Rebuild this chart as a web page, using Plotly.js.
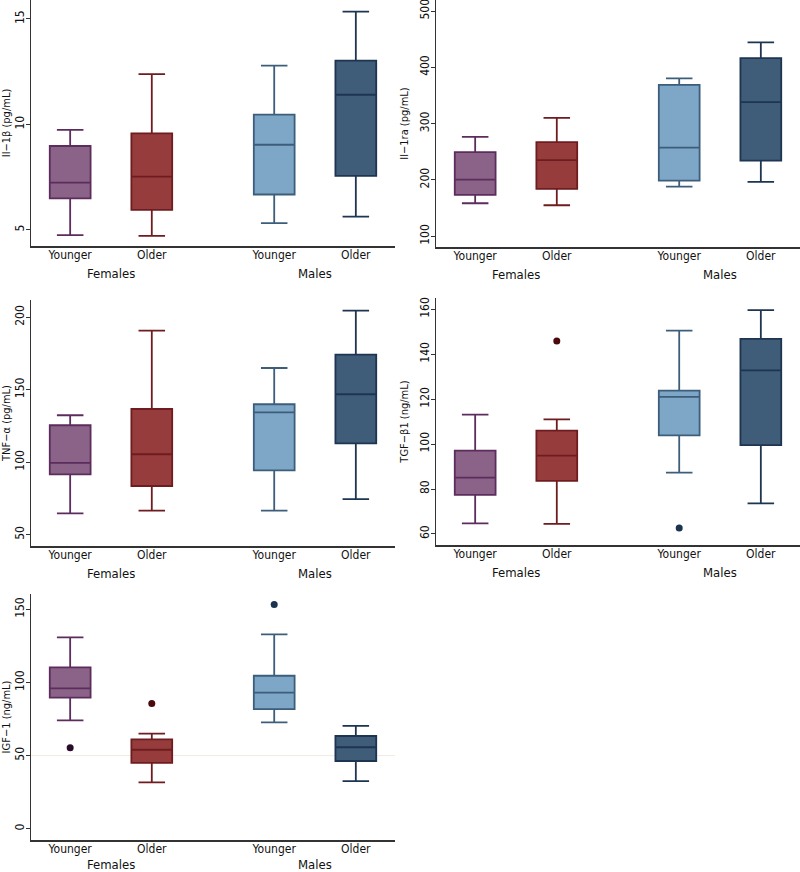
<!DOCTYPE html>
<html>
<head>
<meta charset="utf-8">
<script src="https://cdn.plot.ly/plotly-3.0.1.min.js"></script>
<style>
  html, body { margin: 0; padding: 0; background: #fff; }
  #chart { width: 800px; height: 872px; }
</style>
</head>
<body>
<div id="chart"></div>
<script>
// ---- Categories ----
const groups = ["Females", "Females", "Males", "Males"];
const ages = ["Younger", "Older", "Younger", "Older"];

// ---- IL-1β (pg/mL) ----
const il1b_upper = [9.74, 12.39, 12.79, 15.35];
const il1b_q3    = [8.98, 9.58, 10.47, 13.03];
const il1b_med   = [7.24, 7.53, 9.04, 11.41];
const il1b_q1    = [6.50, 5.95, 6.68, 7.56];
const il1b_lower = [4.76, 4.72, 5.32, 5.63];
const il1b_out   = [[], [], [], []];

// ---- IL-1ra (pg/mL) ----
const il1ra_upper = [276.6, 310.4, 380.3, 444.3];
const il1ra_q3    = [249.3, 267.1, 369.0, 416.4];
const il1ra_med   = [200.7, 235.1, 257.6, 338.2];
const il1ra_q1    = [173.5, 184.1, 199.0, 234.5];
const il1ra_lower = [158.7, 155.1, 188.3, 196.6];
const il1ra_out   = [[], [], [], []];

// ---- TNF-α (pg/mL) ----
const tnfa_upper = [132.4, 190.8, 165.0, 204.6];
const tnfa_q3    = [125.5, 136.7, 140.0, 174.2];
const tnfa_med   = [99.5, 105.5, 134.4, 146.9];
const tnfa_q1    = [91.6, 83.6, 94.4, 113.0];
const tnfa_lower = [64.7, 66.6, 66.6, 74.6];
const tnfa_out   = [[], [], [], []];

// ---- TGF-β1 (ng/mL) ----
const tgfb1_upper = [113.1, 111.0, 150.5, 159.6];
const tgfb1_q3    = [97.1, 106.0, 123.8, 146.8];
const tgfb1_med   = [85.1, 94.9, 121.0, 132.8];
const tgfb1_q1    = [77.4, 83.6, 103.9, 99.5];
const tgfb1_lower = [64.7, 64.5, 87.3, 73.6];
const tgfb1_out   = [[], [145.9], [62.7], []];

// ---- IGF-1 (ng/mL) ----
const igf1_upper = [130.9, 65.0, 132.9, 70.4];
const igf1_q3    = [110.3, 61.1, 104.6, 63.4];
const igf1_med   = [96.0, 54.0, 93.0, 55.7];
const igf1_q1    = [89.6, 45.1, 81.8, 46.3];
const igf1_lower = [74.1, 31.7, 72.7, 32.6];
const igf1_out   = [[55.4], [85.7], [153.4], []];

// ---- Y tick values ----
const il1b_ticks  = [5, 10, 15];
const il1ra_ticks = [100, 200, 300, 400, 500];
const tnfa_ticks  = [50, 100, 150, 200];
const tgfb1_ticks = [60, 80, 100, 120, 140, 160];
const igf1_ticks  = [0, 50, 100, 150];

// ---- Styles ----
const fills   = ["#8b6288", "#973c3d", "#7ea7c7", "#3f5c79"];
const lines   = ["#5b2c5c", "#6e1c1f", "#3d5e7b", "#1d3551"];
const dotCols = ["#2a0c2a", "#4a0a0c", "#1a3350", "#1a3350"];
const FONT = "Liberation Sans Narrow, Arial Narrow, DejaVu Sans Condensed, sans-serif";
const TXT = "#111";
const W = 800, H = 872;

// x position per category: sequential, with an extra half-step between sex groups
const positions = [];
ages.forEach((_, i) => {
  const extra = (i > 0 && groups[i] !== groups[i - 1]) ? 0.5 : 0;
  positions.push(i === 0 ? 1 : positions[i - 1] + 1 + extra);
});

const panels = [
  { title: "Il\u22121\u03b2 (pg/mL)", up: il1b_upper, q3: il1b_q3, med: il1b_med, q1: il1b_q1, lo: il1b_lower, out: il1b_out, ticks: il1b_ticks,
    px: [31, 395], py: [0, 246], range: [4.24, 15.9] },
  { title: "Il\u22121ra (pg/mL)", up: il1ra_upper, q3: il1ra_q3, med: il1ra_med, q1: il1ra_q1, lo: il1ra_lower, out: il1ra_out, ticks: il1ra_ticks,
    px: [436, 800], py: [0, 247], range: [81, 519.6] },
  { title: "TNF\u2212\u03b1 (pg/mL)", up: tnfa_upper, q3: tnfa_q3, med: tnfa_med, q1: tnfa_q1, lo: tnfa_lower, out: tnfa_out, ticks: tnfa_ticks,
    px: [31, 395], py: [300, 546], range: [42.2, 211.9] },
  { title: "TGF\u2212\u03b21 (ng/mL)", up: tgfb1_upper, q3: tgfb1_q3, med: tgfb1_med, q1: tgfb1_q1, lo: tgfb1_lower, out: tgfb1_out, ticks: tgfb1_ticks,
    px: [436, 800], py: [298, 545], range: [55.1, 165] },
  { title: "IGF\u22121 (ng/mL)", up: igf1_upper, q3: igf1_q3, med: igf1_med, q1: igf1_q1, lo: igf1_lower, out: igf1_out, ticks: igf1_ticks,
    px: [31, 395], py: [594, 840], range: [-7.7, 160.5], refline: 50 }
];

const traces = [];
const layout = {
  width: W, height: H,
  margin: { l: 0, r: 0, t: 0, b: 0 },
  paper_bgcolor: "#fff", plot_bgcolor: "#fff",
  showlegend: false,
  boxmode: "overlay",
  font: { family: FONT, color: TXT, size: 12 },
  annotations: [], shapes: []
};

panels.forEach((p, pi) => {
  const n = pi + 1;
  const xa = "x" + (n === 1 ? "" : n), ya = "y" + (n === 1 ? "" : n);
  const xk = "xaxis" + (n === 1 ? "" : n), yk = "yaxis" + (n === 1 ? "" : n);

  if (p.refline !== undefined) {
    layout.shapes.push({ type: "line", xref: xa + " domain", yref: ya, x0: 0, x1: 1, y0: p.refline, y1: p.refline,
      line: { color: "#f1e9e2", width: 1 }, layer: "below" });
  }

  ages.forEach((a, i) => {
    traces.push({
      type: "box", xaxis: xa, yaxis: ya,
      x: [positions[i]],
      q1: [p.q1[i]], median: [p.med[i]], q3: [p.q3[i]],
      lowerfence: [p.lo[i]], upperfence: [p.up[i]],
      width: 0.5, whiskerwidth: 0.65,
      boxpoints: false,
      fillcolor: fills[i],
      line: { color: lines[i], width: 1.8 },
      hoverinfo: "skip"
    });
    if (p.out[i].length) {
      traces.push({
        type: "scatter", mode: "markers", xaxis: xa, yaxis: ya,
        x: p.out[i].map(() => positions[i]), y: p.out[i],
        marker: { color: dotCols[i], size: 7 },
        hoverinfo: "skip"
      });
    }
  });

  layout[xk] = {
    domain: [p.px[0] / W, p.px[1] / W],
    range: [0.52, 4.98],
    anchor: ya,
    tickvals: positions, ticktext: ages,
    ticks: "", showgrid: false, zeroline: false,
    ticklabelstandoff: -3,
    showline: true, linecolor: "#333", linewidth: 1.5,
    tickfont: { family: FONT, size: 12, color: TXT },
    fixedrange: true
  };
  layout[yk] = {
    domain: [1 - p.py[1] / H, 1 - p.py[0] / H],
    range: p.range,
    anchor: xa,
    tickvals: p.ticks,
    tickangle: -90,
    ticklabeloverflow: "allow",
    ticklabelstandoff: -3,
    ticks: "outside", ticklen: 4, tickcolor: "#333", tickwidth: 1,
    showgrid: false, zeroline: false,
    showline: true, linecolor: "#333", linewidth: 1.5,
    tickfont: { family: FONT, size: 12, color: TXT },
    title: { text: p.title, font: { family: FONT, size: 11, color: TXT }, standoff: 7 },
    fixedrange: true
  };

  // Group labels (Females / Males)
  const uniq = [...new Set(groups)];
  uniq.forEach(g => {
    const idx = groups.map((v, k) => v === g ? k : -1).filter(k => k >= 0);
    const cx = idx.reduce((s, k) => s + positions[k], 0) / idx.length;
    layout.annotations.push({
      xref: xa, yref: "paper", x: cx, y: 1 - Math.min(p.py[1] + 27, H - 8) / H,
      yanchor: "middle", xanchor: "center", showarrow: false,
      text: g, font: { family: FONT, size: 13, color: TXT }
    });
  });
});

Plotly.newPlot("chart", traces, layout, { displayModeBar: false, staticPlot: true });
</script>
</body>
</html>
